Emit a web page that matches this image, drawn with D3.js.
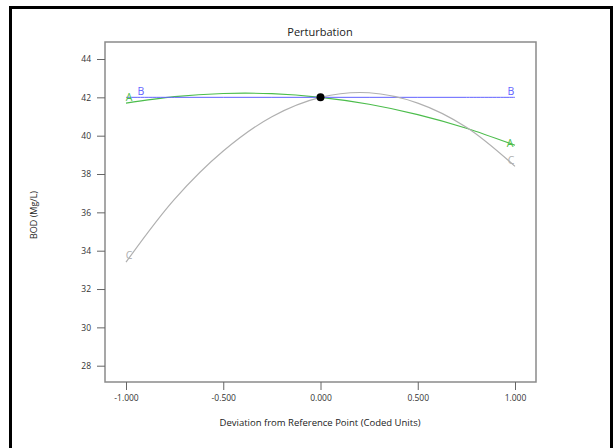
<!DOCTYPE html>
<html>
<head>
<meta charset="utf-8">
<script src="https://cdn.jsdelivr.net/npm/d3@7"></script>
<style>
  html, body { margin: 0; padding: 0; background: #fff; }
  svg { display: block; }
</style>
</head>
<body>
<svg id="chart" width="614" height="448"></svg>
<script>
// Perturbation plot: BOD response vs. deviation of each factor from the reference point
const deviation = [-1, -0.75, -0.5, -0.25, 0, 0.25, 0.5, 0.75, 1];
const factorA = [41.7, 42.04, 42.2, 42.19, 42.0, 41.64, 41.1, 40.39, 39.5];
const factorB = [42.0, 42.0, 42.0, 42.0, 42.0, 42.0, 42.0, 42.0, 42.0];
const factorC = [33.4, 36.69, 39.2, 40.99, 42.0, 42.24, 41.7, 40.44, 38.4];
const xTicks = [-1, -0.5, 0, 0.5, 1];
const yTicks = [28, 30, 32, 34, 36, 38, 40, 42, 44];
const referencePoint = { x: 0, y: 42 };

const series = [
  { name: "A", values: factorA, color: "#4cbd4c", width: 1.2,
    labels: [{ x: -1, y: 42.0, dx: 3 }, { x: 1, y: 39.6, dx: -5 }] },
  { name: "B", values: factorB, color: "#6262ff", width: 1,
    labels: [{ x: -1, y: 42.3, dx: 15 }, { x: 1, y: 42.3, dx: -4 }] },
  { name: "C", values: factorC, color: "#b0b0b0", width: 1.2,
    labels: [{ x: -1, y: 33.75, dx: 3 }, { x: 1, y: 38.7, dx: -4 }] }
];

const svg = d3.select("#chart");
const font = "'Open Sans', 'Noto Sans', sans-serif";

// outer frame
svg.append("rect")
  .attr("x", 10.5).attr("y", 7.5)
  .attr("width", 601).attr("height", 448)
  .attr("fill", "none").attr("stroke", "#000").attr("stroke-width", 3);

const plot = { left: 105, top: 42, right: 536, bottom: 382 };

const x = d3.scaleLinear().domain([-1, 1]).range([126, 515]);
const y = d3.scaleLinear().domain([28, 44]).range([365.7, 59]);

// plot border
svg.append("rect")
  .attr("x", plot.left).attr("y", plot.top)
  .attr("width", plot.right - plot.left).attr("height", plot.bottom - plot.top)
  .attr("fill", "none").attr("stroke", "#8a8a8a").attr("stroke-width", 1.5);

// axes
const xAxis = svg.append("g")
  .attr("transform", `translate(0,${plot.bottom})`)
  .call(d3.axisBottom(x).tickValues(xTicks).tickFormat(d3.format(".3f")).tickSize(8).tickPadding(5));
const yAxis = svg.append("g")
  .attr("transform", `translate(${plot.left},0)`)
  .call(d3.axisLeft(y).tickValues(yTicks).tickFormat(d3.format("d")).tickSize(8).tickPadding(6));

[xAxis, yAxis].forEach(g => {
  g.select(".domain").remove();
  g.selectAll(".tick line").attr("stroke", "#666").attr("stroke-width", 1);
  g.selectAll(".tick text")
    .attr("fill", "#333")
    .style("font-family", font)
    .style("font-size", "8.5px");
});
xAxis.selectAll(".tick text").text(d => d3.format(".3f")(d).replace("−", "-"));

// titles
svg.append("text")
  .attr("x", 320).attr("y", 36)
  .attr("text-anchor", "middle")
  .style("font-family", font).style("font-size", "11px").attr("fill", "#222")
  .text("Perturbation");

svg.append("text")
  .attr("x", 320).attr("y", 426)
  .attr("text-anchor", "middle")
  .style("font-family", font).style("font-size", "9.5px").attr("fill", "#222")
  .text("Deviation from Reference Point (Coded Units)");

svg.append("text")
  .attr("transform", "translate(37,215) rotate(-90)")
  .attr("text-anchor", "middle")
  .style("font-family", font).style("font-size", "9px").attr("fill", "#222")
  .text("BOD (Mg/L)");

// factor traces
const line = d3.line()
  .x((d, i) => x(deviation[i]))
  .y(d => y(d))
  .curve(d3.curveCatmullRom);

series.forEach(s => {
  svg.append("path")
    .datum(s.values)
    .attr("d", line)
    .attr("fill", "none")
    .attr("stroke", s.color)
    .attr("stroke-width", s.width);
});

// factor letters at each end
series.forEach(s => {
  s.labels.forEach(l => {
    svg.append("text")
      .attr("x", x(l.x) + l.dx).attr("y", y(l.y))
      .attr("text-anchor", "middle")
      .attr("dy", "0.35em")
      .style("font-family", font).style("font-size", "10.5px")
      .attr("fill", s.color)
      .text(s.name);
  });
});

// reference point
svg.append("circle")
  .attr("cx", x(referencePoint.x)).attr("cy", y(referencePoint.y))
  .attr("r", 4).attr("fill", "#000");
</script>
</body>
</html>
